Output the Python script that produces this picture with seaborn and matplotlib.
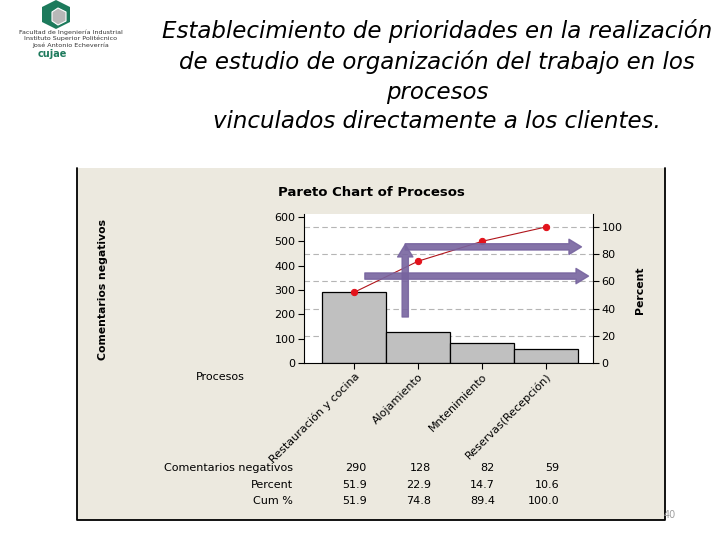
import numpy as np
import matplotlib
matplotlib.use("Agg")
import matplotlib.pyplot as plt
import matplotlib.transforms as mtransforms
from matplotlib.patches import Rectangle, Polygon, FancyArrowPatch
from matplotlib.lines import Line2D
import seaborn as sns

# datos del diagrama de Pareto
procesos = ["Restauración y cocina", "Alojamiento", "Mntenimiento", "Reservas(Recepción)"]
comentarios = [290, 128, 82, 59]
percent = [51.9, 22.9, 14.7, 10.6]
cum_pct = [51.9, 74.8, 89.4, 100.0]
left_ticks = [0, 100, 200, 300, 400, 500, 600]
right_ticks = [0, 20, 40, 60, 80, 100]

titulo = ("Establecimiento de prioridades en la realización\n"
          "de estudio de organización del trabajo en los\n"
          "procesos\n"
          "vinculados directamente a los clientes.")

sns.set_style("ticks")
plt.rcParams['font.family'] = ['DejaVu Sans']
plt.rcParams['text.color'] = 'black'
plt.rcParams['axes.labelcolor'] = 'black'
plt.rcParams['xtick.color'] = 'black'
plt.rcParams['ytick.color'] = 'black'

W, H = 720, 540


def fx(px):
    return px / W


def fy(py):
    return 1 - py / H


fig = plt.figure(figsize=(7.2, 5.4), dpi=100, facecolor='white')

# panel beige de Minitab
fig.add_artist(Rectangle((fx(77), fy(520)), fx(665) - fx(77), (520 - 168) / H,
                         transform=fig.transFigure, facecolor='#ece9df',
                         edgecolor='none', zorder=0))
fig.add_artist(Line2D([fx(77), fx(77), fx(665), fx(665)],
                      [fy(168), fy(520), fy(520), fy(168)],
                      transform=fig.transFigure, color='black', lw=1.3, zorder=1))

total = sum(comentarios)
ymax = 612

ax = fig.add_axes([fx(304), fy(363), fx(593) - fx(304), (363 - 214) / H])
ax.set_facecolor('white')

# lineas de referencia (cada 20 %)
for p in right_ticks[1:]:
    ax.axhline(total * p / 100, color='#b5b5b5', lw=0.8, ls=(0, (5, 3)), zorder=1)

sns.barplot(x=procesos, y=comentarios, color='#c0c0c0', saturation=1,
            edgecolor='black', linewidth=0.9, width=1.0, ax=ax, zorder=2)

ax2 = ax.twinx()
sns.lineplot(x=np.arange(len(cum_pct)), y=cum_pct, ax=ax2, color='#b0151b',
             lw=0.8, marker='o', markersize=4.5, markerfacecolor='#e3121b',
             markeredgecolor='#e3121b', zorder=3)

ax.set_xlim(-0.78, 3.73)
ax.set_ylim(0, ymax)
ax2.set_ylim(0, ymax / total * 100)
ax.set_yticks(left_ticks)
ax2.set_yticks(right_ticks)
ax.set_xticks(range(len(procesos)))
ax.set_xticklabels(procesos, rotation=45, ha='right', va='top', rotation_mode='anchor')
ax.set_xlabel('')
ax.set_ylabel('')
ax2.set_ylabel('')

for a in (ax, ax2):
    a.tick_params(direction='out', length=4, width=0.8, labelsize=8, colors='black', pad=2)
    a.spines['top'].set_visible(False)
    for s in ('left', 'right', 'bottom'):
        a.spines[s].set_linewidth(0.8)
        a.spines[s].set_color('black')
ax.spines['right'].set_visible(False)
ax2.spines['left'].set_visible(False)
ax2.spines['bottom'].set_visible(False)

# flechas de anotacion
flechas = [((0.80, 189), (0.80, 487)),
           ((0.80, 477), (3.55, 477)),
           ((0.17, 357), (3.66, 357))]
for a_, b_ in flechas:
    ax2.add_patch(FancyArrowPatch(a_, b_, transform=ax.transData,
                                  arrowstyle='simple,head_width=1.1,head_length=0.9,tail_width=0.45',
                                  mutation_scale=10, color='#77649f', alpha=0.9,
                                  shrinkA=0, shrinkB=0, clip_on=False, zorder=6))

# textos del grafico
fig.text(fx(371), fy(193), "Pareto Chart of Procesos", ha='center', va='center',
         fontsize=9.5, fontweight='bold')
fig.text(fx(103), fy(290), "Comentarios negativos", rotation=90, ha='center',
         va='center', fontsize=7.8, fontweight='bold')
fig.text(fx(640), fy(290), "Percent", rotation=90, ha='center', va='center',
         fontsize=7.8, fontweight='bold')
fig.text(fx(220), fy(377), "Procesos", ha='center', va='center', fontsize=8)

# tabla inferior
trans = mtransforms.blended_transform_factory(ax.transData, fig.transFigure)
filas = [("Comentarios negativos", [str(v) for v in comentarios], 468),
         ("Percent", [f"{v:.1f}" for v in percent], 485),
         ("Cum %", [f"{v:.1f}" for v in cum_pct], 501)]
for etiqueta, valores, py in filas:
    fig.text(fx(293), fy(py), etiqueta, ha='right', va='center', fontsize=8)
    for i, v in enumerate(valores):
        ax.text(i + 0.2, fy(py), v, transform=trans, ha='right', va='center', fontsize=8)

fig.text(fx(670), fy(515), "40", ha='center', va='center', fontsize=7, color='#a0a0a0')

# titulo de la diapositiva
fig.text(fx(437), fy(76), titulo, ha='center', va='center', fontsize=16.5,
         style='italic', family=['DejaVu Sans'], linespacing=1.38)

# logo
hexa = [(56, 0), (70, 7), (70, 22), (56, 29), (42, 22), (42, 7)]
fig.add_artist(Polygon([(fx(x), fy(y)) for x, y in hexa], closed=True,
                       transform=fig.transFigure, facecolor='#1d7a5c', edgecolor='none'))
cubo = [(58, 8), (66, 12), (66, 21), (58, 25), (52, 21), (52, 12)]
fig.add_artist(Polygon([(fx(x), fy(y)) for x, y in cubo], closed=True,
                       transform=fig.transFigure, facecolor='#b8b8b8', edgecolor='white', lw=0.8))
for texto, py in [("Facultad de Ingeniería Industrial", 32),
                  ("Instituto Superior Politécnico", 38.5),
                  ("José Antonio Echeverría", 45)]:
    fig.text(fx(71), fy(py), texto, ha='center', va='center', fontsize=4.6, color='#333333')
fig.text(fx(52), fy(54), "cujae", ha='center', va='center', fontsize=7,
         fontweight='bold', color='#1d7a5c')

fig.savefig("out.png", dpi=100)
